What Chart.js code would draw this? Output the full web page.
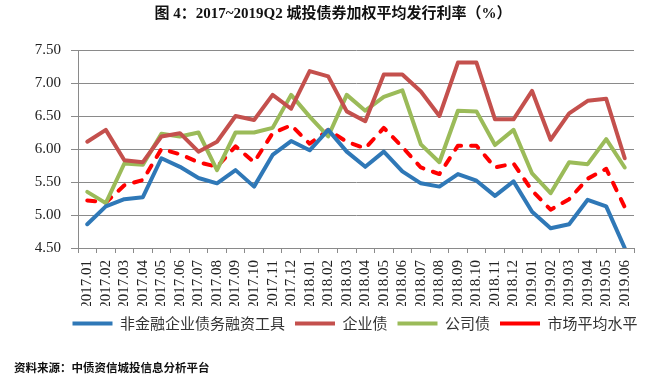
<!DOCTYPE html>
<html>
<head>
<meta charset="utf-8">
<script src="https://cdn.jsdelivr.net/npm/chart.js@4.4.1/dist/chart.umd.min.js"></script>
<style>
  html, body { margin: 0; padding: 0; background: #fff; }
  #wrap { width: 671px; height: 383px; position: relative; }
</style>
</head>
<body>
<div id="wrap"><canvas id="c" width="671" height="383"></canvas></div>
<script>
const titleText = '图 4：2017~2019Q2 城投债券加权平均发行利率（%）';
const sourceText = '资料来源：中债资信城投信息分析平台';

const categories = ['2017.01','2017.02','2017.03','2017.04','2017.05','2017.06','2017.07','2017.08','2017.09','2017.10','2017.11','2017.12',
  '2018.01','2018.02','2018.03','2018.04','2018.05','2018.06','2018.07','2018.08','2018.09','2018.10','2018.11','2018.12',
  '2019.01','2019.02','2019.03','2019.04','2019.05','2019.06'];

const seriesNames = ['非金融企业债务融资工具', '企业债', '公司债', '市场平均水平'];

const nonFinancial = [4.86,5.13,5.24,5.27,5.86,5.73,5.56,5.48,5.68,5.43,5.91,6.12,
  5.98,6.29,5.96,5.73,5.96,5.66,5.48,5.43,5.62,5.52,5.29,5.51,
  5.05,4.80,4.86,5.23,5.13,4.50];
const enterpriseBond = [6.11,6.29,5.83,5.80,6.19,6.24,5.96,6.11,6.50,6.44,6.82,6.61,
  7.18,7.10,6.57,6.42,7.13,7.13,6.87,6.50,7.31,7.31,6.45,6.45,
  6.88,6.14,6.54,6.73,6.76,5.86];
const corporateBond = [5.35,5.18,5.78,5.76,6.23,6.19,6.25,5.68,6.25,6.25,6.32,6.82,
  6.49,6.19,6.82,6.58,6.79,6.89,6.07,5.80,6.58,6.57,6.06,6.29,
  5.63,5.33,5.80,5.77,6.15,5.72];
const marketAverage = [5.22,5.19,5.45,5.53,6.00,5.92,5.80,5.73,6.04,5.80,6.24,6.36,
  6.08,6.29,6.11,6.01,6.32,6.03,5.72,5.62,6.05,6.05,5.72,5.78,
  5.37,5.08,5.24,5.55,5.70,5.12];

const yMin = 4.5, yMax = 7.5, yStep = 0.5;

const gridColor = '#8a8a8a';

const textPlugin = {
  id: 'texts',
  afterLayout(chart) {
    // shift the legend row so it sits where the reference has it
    if (chart.legend) { chart.legend.left += 31; chart.legend.right += 31; }
  },
  afterDraw(chart) {
    const ctx = chart.ctx;
    ctx.save();
    ctx.fillStyle = '#111';
    ctx.textBaseline = 'middle';
    ctx.textAlign = 'center';
    ctx.font = "bold 15px 'Liberation Serif', 'Noto Sans CJK SC'";
    ctx.fillText(titleText, 333, 14);
    ctx.textAlign = 'left';
    ctx.font = "bold 11.5px 'Noto Sans CJK SC'";
    ctx.fillText(sourceText, 14, 368);
    ctx.restore();
  }
};

new Chart(document.getElementById('c'), {
  type: 'line',
  data: {
    labels: categories,
    datasets: [
      { label: seriesNames[0], data: nonFinancial, borderColor: '#2f78b7', backgroundColor: '#2f78b7',
        borderWidth: 4, pointRadius: 0, borderJoinStyle: 'round', borderCapStyle: 'round' },
      { label: seriesNames[1], data: enterpriseBond, borderColor: '#c4504d', backgroundColor: '#c4504d',
        borderWidth: 4, pointRadius: 0, borderJoinStyle: 'round', borderCapStyle: 'round' },
      { label: seriesNames[2], data: corporateBond, borderColor: '#9bbb59', backgroundColor: '#9bbb59',
        borderWidth: 4, pointRadius: 0, borderJoinStyle: 'round', borderCapStyle: 'round' },
      { label: seriesNames[3], data: marketAverage, borderColor: '#ff0000', backgroundColor: '#ff0000',
        borderWidth: 4, pointRadius: 0, borderDash: [8, 10], borderJoinStyle: 'round', borderCapStyle: 'round' }
    ]
  },
  options: {
    responsive: false,
    animation: false,
    devicePixelRatio: 1,
    layout: { padding: { left: 14, right: 37, top: 50, bottom: 42 } },
    plugins: {
      title: { display: false },
      tooltip: { enabled: false },
      legend: {
        display: true,
        position: 'bottom',
        align: 'center',
        labels: {
          usePointStyle: true,
          pointStyle: 'line',
          pointStyleWidth: 40,
          padding: 10,
          color: '#333',
          font: { family: "'Noto Sans CJK SC'", size: 15 }
        }
      }
    },
    scales: {
      x: {
        offset: true,
        afterFit: (s) => { s.height = 58; },
        grid: { display: true, offset: true, drawOnChartArea: false, drawTicks: true, tickLength: 5, color: gridColor },
        border: { display: true, color: gridColor, width: 1 },
        ticks: {
          autoSkip: false, minRotation: 90, maxRotation: 90, padding: 7,
          color: '#222', font: { family: "'Liberation Serif'", size: 15 }
        }
      },
      y: {
        min: yMin, max: yMax,
        afterFit: (s) => { s.width = 64; },
        grid: { display: true, color: gridColor, drawTicks: true, tickLength: 7 },
        border: { display: true, color: gridColor, width: 1 },
        ticks: {
          stepSize: yStep, padding: 10,
          color: '#222', font: { family: "'Liberation Serif'", size: 15 },
          callback: (v) => Number(v).toFixed(2)
        }
      }
    }
  },
  plugins: [textPlugin]
});
</script>
</body>
</html>
